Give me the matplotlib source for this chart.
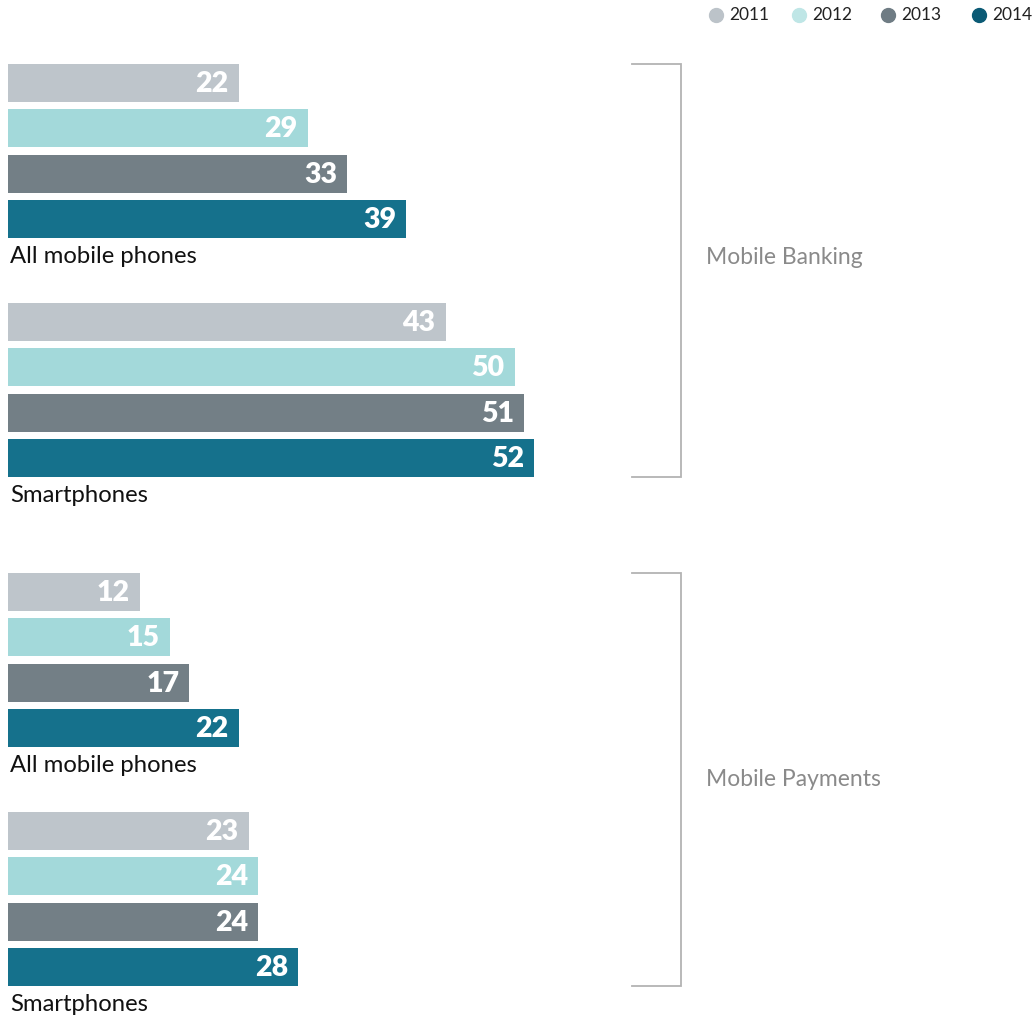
import matplotlib.pyplot as plt
from matplotlib.lines import Line2D

years = ["2011", "2012", "2013", "2014"]
bar_colors = ["#bec5cb", "#a3d9da", "#737f86", "#15718c"]
legend_colors = ["#bcc3c9", "#bfe6e6", "#6f7c84", "#0b5a75"]

sections = ["Mobile Banking", "Mobile Payments"]
groups = ["All mobile phones", "Smartphones"]
banking_all = [22, 29, 33, 39]
banking_smart = [43, 50, 51, 52]
payments_all = [12, 15, 17, 22]
payments_smart = [23, 24, 24, 28]
values = [[banking_all, banking_smart], [payments_all, payments_smart]]

W, H = 1035, 1018
fig = plt.figure(figsize=(W / 100, H / 100), dpi=100)
ax = fig.add_axes([0, 0, 1, 1])
plt.rcParams['font.family'] = ['Lato', 'DejaVu Sans']

# x in value units, y in pixel rows
px_per_unit = 9.85
zero_px = 22
ax.set_xlim(-zero_px / px_per_unit, (W - zero_px) / px_per_unit)
ax.set_ylim(H, 0)
ax.axis("off")
base = -14 / px_per_unit  # bars start a bit left of zero

bar_h = 38
pitch = 45.3
group_step = 239
section_step = 509
top0 = 64

for s, sec in enumerate(sections):
    sec_top = top0 + s * section_step
    for g, grp in enumerate(groups):
        gtop = sec_top + g * group_step
        for i, v in enumerate(values[s][g]):
            yc = gtop + i * pitch + bar_h / 2
            ax.barh(yc, v - base, left=base, height=bar_h, color=bar_colors[i])
            ax.text(v - 10 / px_per_unit, yc + 1, str(v), ha="right", va="center",
                    color="white", fontsize=20.5, fontweight="heavy")
        ax.text(base + 2 / px_per_unit, gtop + 3 * pitch + bar_h + 19, grp,
                ha="left", va="center", fontsize=17.2, color="#111111")
    # bracket
    y_top = sec_top
    y_bot = sec_top + group_step + 3 * pitch + bar_h
    xb0 = (632 - zero_px) / px_per_unit
    xb1 = (681 - zero_px) / px_per_unit
    ax.plot([xb0, xb1, xb1, xb0], [y_top, y_top, y_bot, y_bot],
            color="#b3b3b3", lw=1.3, solid_joinstyle="miter")
    ax.text((706 - zero_px) / px_per_unit, [257, 780][s], sec, ha="left", va="center",
            fontsize=16.5, color="#8a8a8a")

# legend
leg_x = [716, 799, 888, 979]
for i, yr in enumerate(years):
    fig.add_artist(Line2D([leg_x[i] / W], [1 - 15 / H], marker="o", markersize=10,
                          color=legend_colors[i], linestyle="none",
                          transform=fig.transFigure))
    fig.text((leg_x[i] + 13) / W, 1 - 15 / H, yr, ha="left", va="center",
             fontsize=12.5, color="#222222")

fig.savefig("out.png", dpi=100)
